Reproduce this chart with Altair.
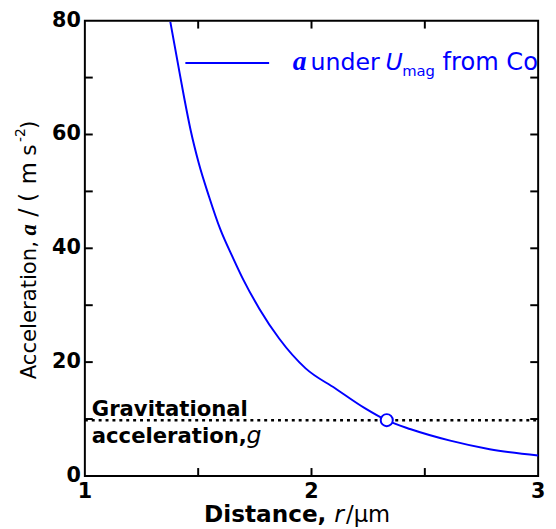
import altair as alt
import pandas as pd

# ---- data ----
r_um = [1.377, 1.409, 1.438, 1.467, 1.503, 1.547, 1.597, 1.655, 1.699, 1.771,
        1.858, 1.974, 2.104, 2.235, 2.332, 2.438, 2.612, 2.786, 3.0]
accel = [79.8, 72.8, 66.5, 60.7, 54.9, 49.2, 43.4, 38.2, 34.5, 29.3,
         24.1, 18.9, 15.4, 11.9, 9.75, 8.2, 6.2, 4.7, 3.6]

g_value = [9.8]
cross_r = [2.332]
x_labels = [1, 2, 3]
y_labels = [0, 20, 40, 60, 80]
x_minor = [1.5, 2, 2.5]
y_minor = [10, 20, 30, 40, 50, 60, 70]

W, H = 460, 462
BLUE = "#0000ff"

curve_df = pd.DataFrame({"r": r_um, "a": accel})
g_df = pd.DataFrame({"r0": [x_labels[0]], "r1": [x_labels[-1]], "g": g_value})
cross_df = pd.DataFrame({"r": cross_r, "a": g_value})
xt_df = pd.DataFrame({"t": x_minor})
yt_df = pd.DataFrame({"t": y_minor})
xl_df = pd.DataFrame({"v": x_labels})
yl_df = pd.DataFrame({"v": y_labels})
anchor = pd.DataFrame({"k": [0]})

xscale = alt.Scale(domain=[1, 3], nice=False, zero=False)
yscale = alt.Scale(domain=[0, 80], nice=False)

curve = alt.Chart(curve_df).mark_line(color=BLUE, strokeWidth=2, interpolate="monotone").encode(
    x=alt.X("r:Q", scale=xscale, axis=None),
    y=alt.Y("a:Q", scale=yscale, axis=None),
)

gline = alt.Chart(g_df).mark_rule(color="black", strokeWidth=2.5, strokeDash=[3, 4]).encode(
    x=alt.X("r0:Q", axis=None), x2="r1:Q", y=alt.Y("g:Q", axis=None)
)

cross = alt.Chart(cross_df).mark_point(shape="circle", size=150, filled=True, fill="white",
                                       stroke=BLUE, strokeWidth=2, opacity=1).encode(
    x=alt.X("r:Q", axis=None), y=alt.Y("a:Q", axis=None)
)

TL = 8
xt_bot = alt.Chart(xt_df).mark_rule(color="black", strokeWidth=2).encode(
    x=alt.X("t:Q", axis=None), y=alt.value(H), y2=alt.value(H - TL))
xt_top = alt.Chart(xt_df).mark_rule(color="black", strokeWidth=2).encode(
    x=alt.X("t:Q", axis=None), y=alt.value(0), y2=alt.value(TL))
yt_left = alt.Chart(yt_df).mark_rule(color="black", strokeWidth=2).encode(
    y=alt.Y("t:Q", axis=None), x=alt.value(0), x2=alt.value(TL))
yt_right = alt.Chart(yt_df).mark_rule(color="black", strokeWidth=2).encode(
    y=alt.Y("t:Q", axis=None), x=alt.value(W), x2=alt.value(W - TL))

# tick labels, positioned through the scales
xlab = alt.Chart(xl_df).mark_text(font="DejaVu Sans", fontSize=21, fontWeight="bold",
                                  color="black", align="center", baseline="top").encode(
    x=alt.X("v:Q", axis=None), y=alt.value(H + 5), text=alt.Text("v:Q"))
ylab = alt.Chart(yl_df).mark_text(font="DejaVu Sans", fontSize=21, fontWeight="bold",
                                  color="black", align="right", baseline="middle").encode(
    y=alt.Y("v:Q", axis=None), x=alt.value(-4), text=alt.Text("v:Q"))


def txt(s, x, y, size, weight="normal", style="normal", font="DejaVu Sans",
        color="black", angle=0):
    return alt.Chart(anchor).mark_text(
        text=s, fontSize=size, fontWeight=weight, fontStyle=style, font=font,
        color=color, angle=angle, align="left", baseline="alphabetic"
    ).encode(x=alt.value(x), y=alt.value(y))


# legend
leg_line = alt.Chart(anchor).mark_rule(color=BLUE, strokeWidth=2).encode(
    x=alt.value(102), x2=alt.value(187), y=alt.value(43))
legend = [
    leg_line,
    txt("a", 211, 50, 28, weight="bold", style="italic", font="Liberation Serif", color=BLUE),
    txt("under", 229, 50, 24, color=BLUE),
    txt("U", 305, 50, 24, style="italic", color=BLUE),
    txt("mag", 322, 56, 15, color=BLUE),
    txt("from Co", 363, 50, 24.5, color=BLUE),
]

# gravitational label
grav = [
    txt("Gravitational", 7, 401, 21.5, weight="bold"),
    txt("acceleration,", 7, 429, 21.5, weight="bold"),
    txt("g", 164, 429, 24, style="italic"),
]

# x title
xtitle = [
    txt("Distance,", 121, 509, 23.5, weight="bold"),
    txt("r", 253, 509, 24, style="italic"),
    txt("/μm", 265, 509, 23),
]

# y title (rotated, reading upward)
YB = -50
ytitle = [
    txt("Acceleration,", YB, 364, 21.5, angle=270),
    txt("a", YB, 218, 23, weight="bold", style="italic", font="Liberation Serif", angle=270),
    txt("/", YB, 199, 25, angle=270),
    txt("(", YB, 184, 24, angle=270),
    txt("m", YB, 166, 23, angle=270),
    txt("s", YB, 137, 22, angle=270),
    txt("-2", YB - 11, 123, 14, angle=270),
    txt(")", YB, 110, 22, angle=270),
]

chart = alt.layer(
    curve, gline, cross, xt_bot, xt_top, yt_left, yt_right, xlab, ylab,
    *legend, *grav, *xtitle, *ytitle
).properties(
    width=W, height=H,
    autosize=alt.AutoSizeParams(type="none"),
    padding={"left": 78, "top": 9, "right": 10, "bottom": 50},
).configure_view(
    stroke="black", strokeWidth=2
)

chart.save("out.html", embed_options={"renderer": "svg", "actions": False})
